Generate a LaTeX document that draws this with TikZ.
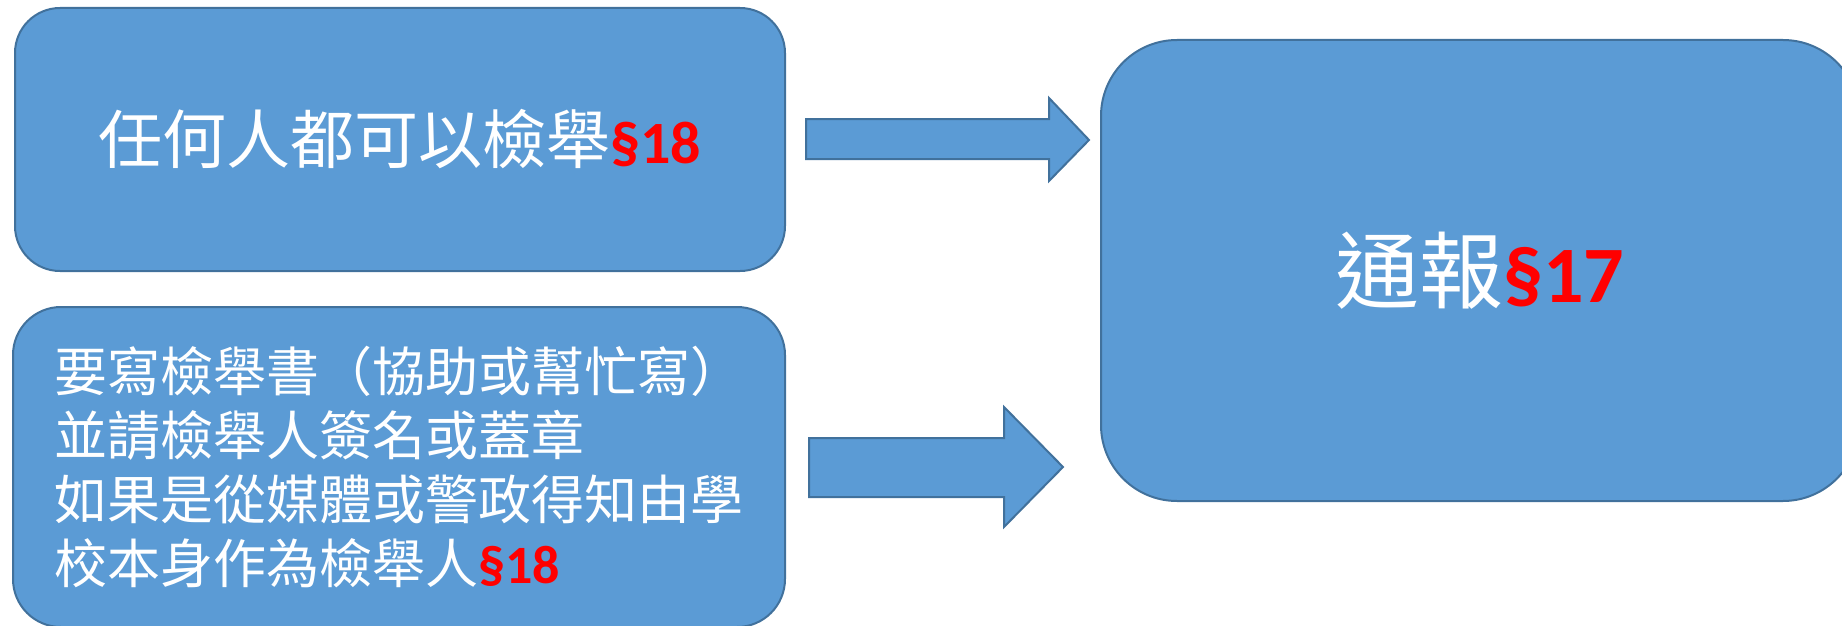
\documentclass[tikz,border=0pt]{standalone}
\usepackage{fontspec}
\usepackage{tikz}
\newfontfamily\cjk{Noto Sans CJK TC}
\newfontfamily\calib{Carlito}
\definecolor{boxblue}{HTML}{5B9BD5}
\definecolor{boxline}{HTML}{41719C}
\newcommand{\lawref}[2]{{\calib\bfseries\fontsize{#1}{#1}\selectfont\color{red}§#2}}

\begin{document}
\begin{tikzpicture}[x=1pt,y=-1pt,
   box/.style={draw=boxline,fill=boxblue,line width=2pt,text=white,inner sep=0pt}]
   \useasboundingbox (0,0) rectangle (1842,626);
   \node[box,rounded corners=45pt,minimum width=770pt,minimum height=263pt,
     font={\cjk\fontsize{64}{70}\selectfont}] (anyone) at (400,139.5)
     {任何人都可以檢舉\lawref{60}{18}};
   \node[box,rounded corners=48pt,minimum width=772pt,minimum height=320pt,align=left,
     font={\cjk\fontsize{53}{64}\selectfont}] (letter) at (399,467)
     {要寫檢舉書（協助或幫忙寫）\\並請檢舉人簽名或蓋章\\如果是從媒體或警政得知由學\\校本身作為檢舉人\lawref{54}{18}};
   \node[box,rounded corners=76pt,minimum width=758pt,minimum height=461pt,
     font={\cjk\fontsize{84}{90}\selectfont}] (report) at (1480,270.5)
     {通報\lawref{80}{17}};
   \filldraw[fill=boxblue,draw=boxline,line width=2pt]
     (806,119) -- (1049,119) -- (1049,98) -- (1089,140) -- (1049,181) -- (1049,159) -- (806,159) -- cycle;
   \filldraw[fill=boxblue,draw=boxline,line width=2pt]
     (809,438) -- (1004,438) -- (1004,407) -- (1063,467) -- (1004,527) -- (1004,497) -- (809,497) -- cycle;
\end{tikzpicture}
\end{document}
